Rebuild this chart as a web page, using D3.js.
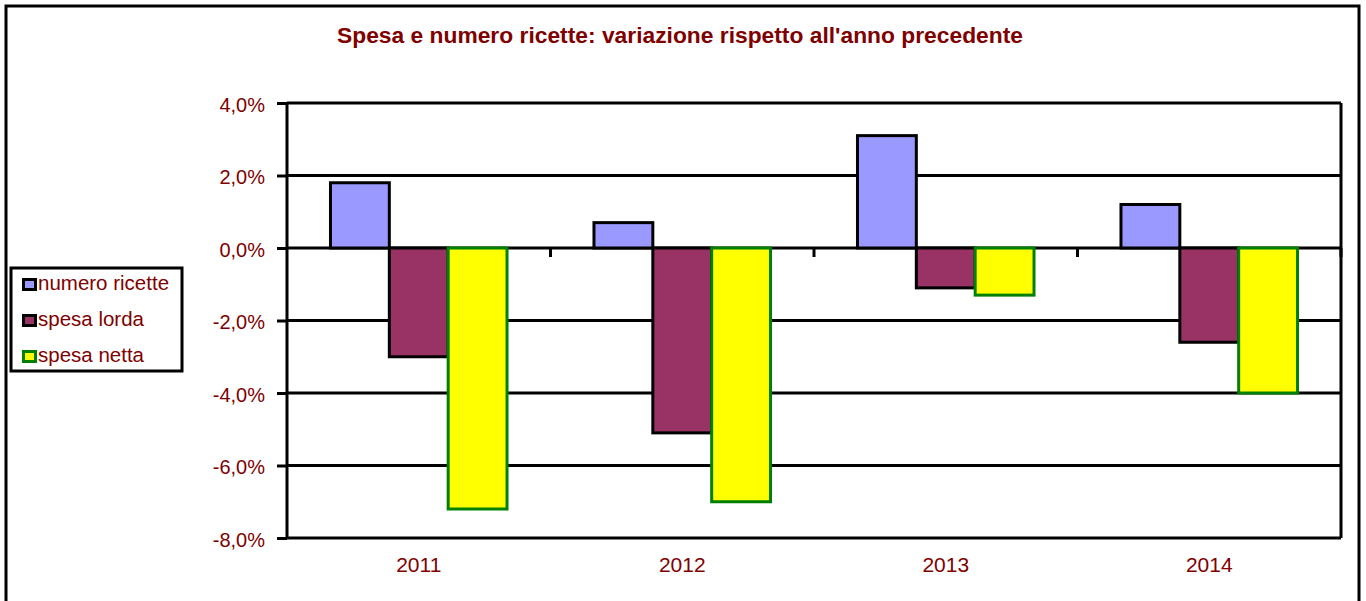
<!DOCTYPE html>
<html>
<head>
<meta charset="utf-8">
<script src="https://cdn.jsdelivr.net/npm/d3@7"></script>
<style>
  html, body { margin: 0; padding: 0; background: #fff; }
  svg { display: block; font-family: "Liberation Sans", Arial, sans-serif; }
</style>
</head>
<body>
<svg id="chart" width="1366" height="601"></svg>
<script>
// Annual change (%) by year
const years = ["2011", "2012", "2013", "2014"];
const seriesNames = ["numero ricette", "spesa lorda", "spesa netta"];
const numeroRicette = [1.8, 0.7, 3.1, 1.2];
const spesaLorda = [-3.0, -5.1, -1.1, -2.6];
const spesaNetta = [-7.2, -7.0, -1.3, -4.0];
const yTicks = [4, 2, 0, -2, -4, -6, -8];

const seriesValues = [numeroRicette, spesaLorda, spesaNetta];
const fills = ["#9999FF", "#993366", "#FFFF00"];
const strokes = ["#000000", "#000000", "#008000"];
const textColor = "#800000";

const svg = d3.select("#chart");
const plotLeft = 287, plotRight = 1341, plotTop = 103, plotBottom = 538;

// outer chart frame
svg.append("rect")
  .attr("x", 6).attr("y", 6).attr("width", 1353).attr("height", 610)
  .attr("fill", "none").attr("stroke", "#000").attr("stroke-width", 3);

// title
svg.append("text")
  .attr("x", 680).attr("y", 43)
  .attr("text-anchor", "middle")
  .attr("font-size", 22).attr("font-weight", "bold")
  .attr("fill", textColor)
  .attr("textLength", 686).attr("lengthAdjust", "spacingAndGlyphs")
  .text("Spesa e numero ricette: variazione rispetto all'anno precedente");

const y = d3.scaleLinear().domain([-8, 4]).range([plotBottom, plotTop]);
const x0 = d3.scaleBand().domain(years).range([plotLeft, plotRight])
  .paddingInner(0.33).paddingOuter(0.165);
const x1 = d3.scaleBand().domain(d3.range(seriesNames.length)).range([0, x0.bandwidth()]);

// horizontal gridlines
svg.append("g").selectAll("line").data(yTicks).join("line")
  .attr("x1", plotLeft).attr("x2", plotRight)
  .attr("y1", d => y(d)).attr("y2", d => y(d))
  .attr("stroke", "#000").attr("stroke-width", 3);

// right edge of plot area
svg.append("line")
  .attr("x1", plotRight).attr("x2", plotRight).attr("y1", plotTop).attr("y2", plotBottom)
  .attr("stroke", "#000").attr("stroke-width", 3);

// bars
const groups = svg.append("g").selectAll("g").data(years).join("g")
  .attr("transform", d => `translate(${x0(d)},0)`);
groups.selectAll("rect")
  .data((yr, i) => seriesValues.map((vals, s) => ({ s, v: vals[i] })))
  .join("rect")
  .attr("x", d => x1(d.s))
  .attr("width", x1.bandwidth())
  .attr("y", d => y(Math.max(0, d.v)))
  .attr("height", d => Math.abs(y(d.v) - y(0)))
  .attr("fill", d => fills[d.s])
  .attr("stroke", d => strokes[d.s])
  .attr("stroke-width", 3);

// y axis
const yAxis = d3.axisLeft(y).tickValues(yTicks).tickSize(10).tickPadding(12)
  .tickFormat(d => d3.format(".1f")(d).replace(".", ",").replace("−", "-") + "%");
const gy = svg.append("g").attr("transform", `translate(${plotLeft},0)`).call(yAxis);
gy.select(".domain").attr("stroke", "#000").attr("stroke-width", 3)
  .attr("d", `M0,${plotTop}V${plotBottom}`);
gy.selectAll(".tick line").attr("stroke", "#000").attr("stroke-width", 3);
gy.selectAll(".tick text").attr("fill", textColor).attr("font-size", 20)
  .attr("dy", "0.4em")
  .attr("font-family", "Liberation Sans, Arial, sans-serif");

// category boundary ticks on the zero line
const boundaries = years.slice(1).map(d => x0(d) - x0.step() * x0.paddingInner() / 2).concat([plotRight]);
svg.append("g").selectAll("line").data(boundaries).join("line")
  .attr("x1", d => d).attr("x2", d => d)
  .attr("y1", y(0)).attr("y2", y(0) + 9)
  .attr("stroke", "#000").attr("stroke-width", 3);

// category labels
svg.append("g").selectAll("text").data(years).join("text")
  .attr("x", d => x0(d) + x0.bandwidth() / 2)
  .attr("y", 572)
  .attr("text-anchor", "middle")
  .attr("font-size", 21)
  .attr("fill", textColor)
  .text(d => d);

// legend
const lg = svg.append("g");
lg.append("rect")
  .attr("x", 11).attr("y", 268).attr("width", 171).attr("height", 103)
  .attr("fill", "#fff").attr("stroke", "#000").attr("stroke-width", 3);
const items = lg.selectAll("g").data(seriesNames).join("g")
  .attr("transform", (d, i) => `translate(0,${290 + i * 36})`);
items.append("rect")
  .attr("x", 23.5).attr("y", -10.5).attr("width", 12).attr("height", 10)
  .attr("fill", (d, i) => fills[i])
  .attr("stroke", (d, i) => strokes[i]).attr("stroke-width", 3);
items.append("text")
  .attr("x", 38).attr("y", 0)
  .attr("font-size", 20.5)
  .attr("fill", textColor)
  .text(d => d);
</script>
</body>
</html>
